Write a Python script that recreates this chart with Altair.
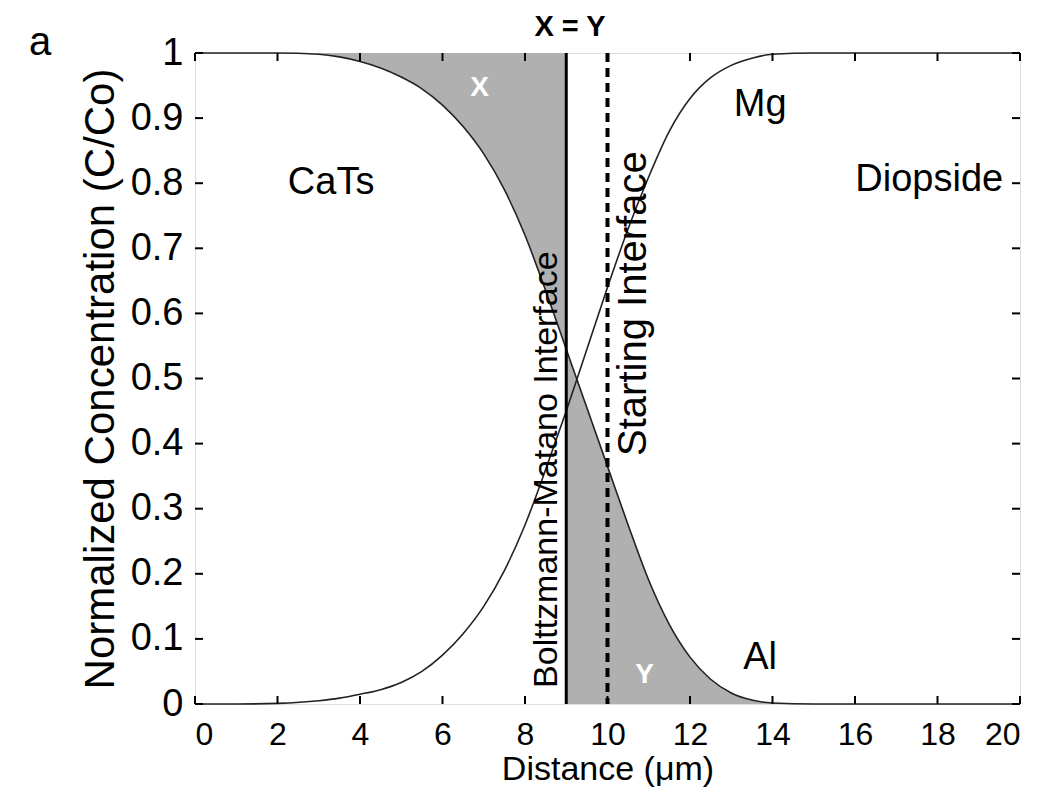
import altair as alt
import pandas as pd

# ---- data ----
dist = [0, 1, 2, 3, 3.5, 4, 4.5, 5, 5.5, 6, 6.5, 7, 7.5, 8, 8.5, 9, 9.5,
        10, 10.5, 11, 11.5, 12, 12.5, 13, 13.5, 14, 15, 16, 18, 20]
al = [1, 1, 1, 0.998, 0.994, 0.987, 0.977, 0.963, 0.945, 0.92, 0.887, 0.845, 0.79,
      0.72, 0.635, 0.545, 0.455, 0.365, 0.275, 0.19, 0.122, 0.072, 0.038, 0.017,
      0.006, 0.0015, 0, 0, 0, 0]
mg = [0, 0, 0.001, 0.005, 0.009, 0.015, 0.022, 0.033, 0.05, 0.075, 0.108, 0.15, 0.205,
      0.275, 0.36, 0.45, 0.545, 0.64, 0.73, 0.81, 0.88, 0.93, 0.962, 0.981,
      0.992, 0.998, 1, 1, 1, 1]

matano_x = [9]
start_x = [10]

label_text = ["CaTs", "Mg", "Diopside", "Al"]
label_x = [3.3, 13.7, 17.8, 13.7]
label_y = [0.8, 0.92, 0.805, 0.07]

region_text = ["X", "Y"]
region_x = [6.9, 10.9]
region_y = [0.946, 0.045]

rot_text = ["Bolttzmann-Matano Interface", "Starting Interface"]
rot_x = [8.54, 10.64]
rot_y = [0.36, 0.615]
rot_size = [34, 40]

xticks = [0, 2, 4, 6, 8, 10, 12, 14, 16, 18, 20]
yticks = [0, 0.1, 0.2, 0.3, 0.4, 0.5, 0.6, 0.7, 0.8, 0.9, 1]

W, H = 825, 651
FONT = "Liberation Sans"

curves = pd.DataFrame({"x": dist, "al": al, "mg": mg})
long = curves.melt("x", value_vars=["al", "mg"], var_name="s", value_name="y")
xfill = curves[(curves.x >= 3) & (curves.x <= 9)].assign(top=1.0)
yfill = curves[(curves.x >= 9) & (curves.x <= 15)].assign(bot=0.0)

xscale = alt.Scale(domain=[0, 20], nice=False, zero=False)
yscale = alt.Scale(domain=[0, 1], nice=False, zero=False)
xaxis = alt.Axis(values=xticks, tickSize=0, domain=False, grid=False,
                 labelFontSize=32, labelPadding=15, labelColor="black",
                 titleFontSize=34, titleFontWeight="normal", titlePadding=2,
                 titleColor="black", labelFont=FONT, titleFont=FONT)
yaxis = alt.Axis(values=yticks, format=".1~f", tickSize=0, domain=False, grid=False,
                 labelFontSize=38, labelPadding=12, labelColor="black",
                 titleFontSize=42, titleFontWeight="normal", titlePadding=8,
                 titleColor="black", labelFont=FONT, titleFont=FONT)


def X(f):
    return alt.X(f"{f}:Q", scale=xscale, axis=xaxis, title="Distance (μm)")


def Y(f):
    return alt.Y(f"{f}:Q", scale=yscale, axis=yaxis,
                 title="Normalized Concentration (C/Co)")


FILL = "#b0b0b0"
area_x = alt.Chart(xfill).mark_area(color=FILL, interpolate="monotone").encode(
    x=X("x"), y=Y("al"), y2="top")
area_y = alt.Chart(yfill).mark_area(color=FILL, interpolate="monotone").encode(
    x=X("x"), y=Y("al"), y2="bot")

lines = alt.Chart(long).mark_line(color="#222222", strokeWidth=1.6,
                                  interpolate="monotone").encode(
    x=X("x"), y=Y("y"), detail="s:N")

matano = alt.Chart(pd.DataFrame({"x": matano_x})).mark_rule(
    color="black", strokeWidth=3).encode(x=X("x"))
start = alt.Chart(pd.DataFrame({"x": start_x})).mark_rule(
    color="black", strokeWidth=4, strokeDash=[9, 6]).encode(x=X("x"))

labels = alt.Chart(pd.DataFrame({"t": label_text, "x": label_x, "y": label_y})).mark_text(
    font=FONT, fontSize=38, color="black").encode(x=X("x"), y=Y("y"), text="t:N")

regions = alt.Chart(pd.DataFrame({"t": region_text, "x": region_x, "y": region_y})).mark_text(
    font=FONT, fontSize=28, fontWeight="bold", color="white").encode(
    x=X("x"), y=Y("y"), text="t:N")

rot = alt.Chart(pd.DataFrame({"t": rot_text, "x": rot_x, "y": rot_y, "s": rot_size})).mark_text(
    font=FONT, color="black", angle=270, baseline="middle",
    align="center").encode(x=X("x"), y=Y("y"), text="t:N",
                           size=alt.Size("s:Q", scale=None, legend=None))

xt = pd.DataFrame({"x": xticks})
yt = pd.DataFrame({"y": yticks})
tick_b = alt.Chart(xt).mark_rule(color="black", strokeWidth=2).encode(
    x=X("x"), y=alt.value(H), y2=alt.value(H - 8))
tick_t = alt.Chart(xt).mark_rule(color="black", strokeWidth=2).encode(
    x=X("x"), y=alt.value(0), y2=alt.value(8))
tick_l = alt.Chart(yt).mark_rule(color="black", strokeWidth=2).encode(
    y=Y("y"), x=alt.value(0), x2=alt.value(8))
tick_r = alt.Chart(yt).mark_rule(color="black", strokeWidth=2).encode(
    y=Y("y"), x=alt.value(W), x2=alt.value(W - 8))

title_df = pd.DataFrame({"t": ["X = Y"]})
title = alt.Chart(title_df).mark_text(font=FONT, fontSize=29, fontWeight="bold",
                                      color="black", baseline="alphabetic").encode(
    x=alt.value(375), y=alt.value(-17), text="t:N")
panel_df = pd.DataFrame({"t": ["a"]})
panel = alt.Chart(panel_df).mark_text(font=FONT, fontSize=40, color="black",
                                      baseline="middle").encode(
    x=alt.value(-155), y=alt.value(-10), text="t:N")

chart = alt.layer(area_x, area_y, lines, matano, start, labels, regions, rot,
                  tick_b, tick_t, tick_l, tick_r, title, panel).properties(
    width=W, height=H,
    autosize=alt.AutoSizeParams(type="none"),
    padding={"left": 187, "top": 45, "right": 30, "bottom": 87},
).configure_view(stroke="black", strokeWidth=2.5).configure(background="white")

chart.save("out.html", embed_options={"renderer": "svg", "actions": False})
